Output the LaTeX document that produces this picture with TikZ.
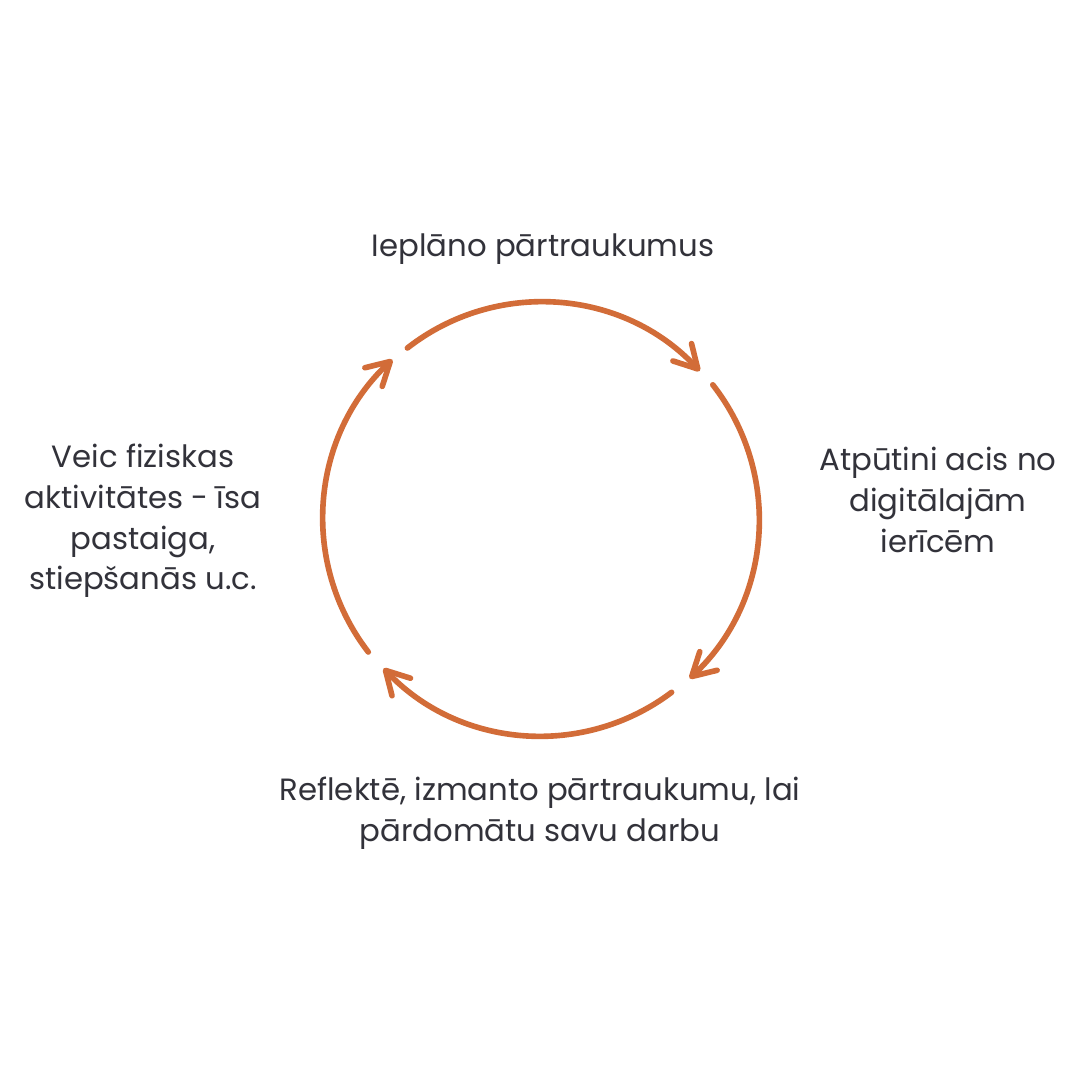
\documentclass[tikz,border=0pt]{standalone}
\usepackage{fontspec}
\setmainfont{Poppins}
\usetikzlibrary{arrows.meta}
\definecolor{arcorange}{RGB}{210,108,56}
\definecolor{txtgray}{RGB}{50,50,58}
\begin{document}
\begin{tikzpicture}[x=0.02cm,y=-0.02cm,
  arcline/.style={draw=arcorange, line width=3.2pt, line cap=round, line join=round,
    -{Straight Barb[length=13pt,width=14.5pt,round]}},
  lbl/.style={text=txtgray, font=\fontsize{17.5}{23.2}\selectfont, align=center, inner sep=0pt}]
\useasboundingbox (0,0) rectangle (1080,1080);
\fill[white] (0,0) rectangle (1080,1080);
% labels
\node[lbl] (top) at (543,249) {Ieplāno pārtraukumus};
\node[lbl] (right) at (938,500) {Atpūtini acis no\\digitālajām\\ierīcēm};
\node[lbl] (bottom) at (540,813) {Reflektē, izmanto pārtraukumu, lai\\pārdomātu savu darbu};
\node[lbl] (left) at (143,521) {Veic fiziskas\\aktivitātes - īsa\\pastaiga,\\stiepšanās u.c.};
% circle centre
\coordinate (c) at (541,519);
% arcs
\draw[arcline] ([shift={(-128:217)}]c) arc[start angle=-128, end angle=-43, radius=217];
\draw[arcline] ([shift={(-38:218)}]c) arc[start angle=-38, end angle=47, radius=218];
\draw[arcline] ([shift={(53:217)}]c) arc[start angle=53, end angle=136.5, radius=217];
\draw[arcline] ([shift={(142.4:218)}]c) arc[start angle=142.4, end angle=227, radius=218];
\end{tikzpicture}
\end{document}
